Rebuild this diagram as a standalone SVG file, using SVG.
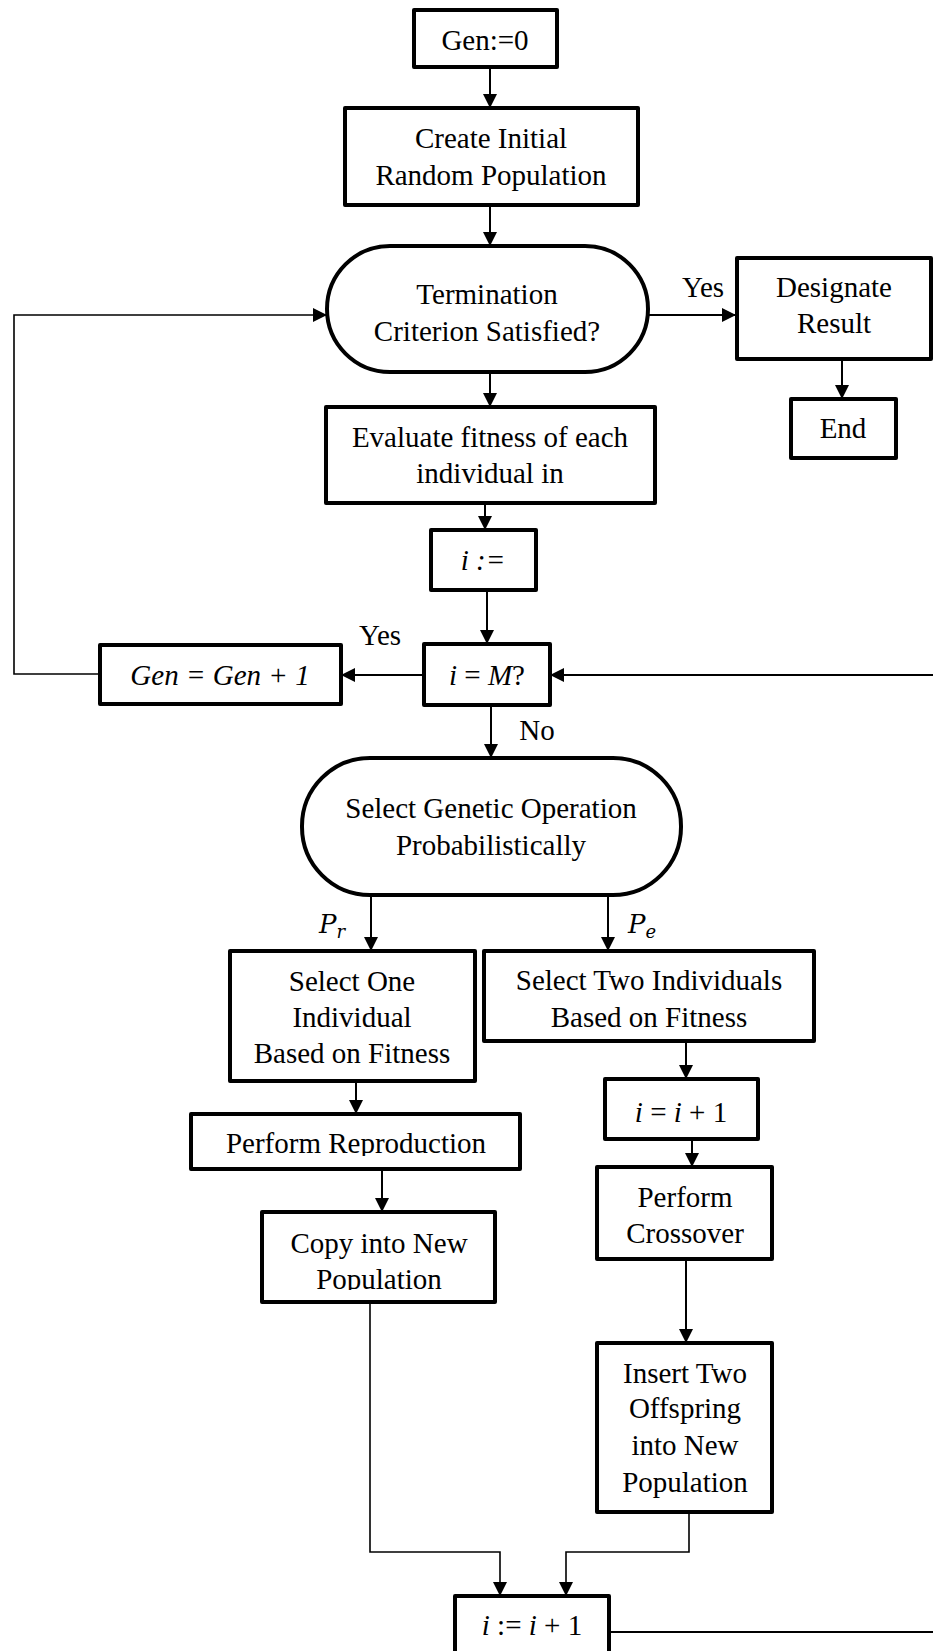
<svg xmlns="http://www.w3.org/2000/svg" width="933" height="1651" viewBox="0 0 933 1651">
<style>
.box{fill:#fff;stroke:#000;stroke-width:4;stroke-linejoin:round}
.c{fill:none;stroke:#000;stroke-width:2}
.t{fill:none;stroke:#000;stroke-width:1.6}
text{font-family:"Liberation Serif","Times New Roman",serif;font-size:29px;fill:#000;text-anchor:middle}
.i{font-style:italic}
.l{text-anchor:start}
</style>
<defs>
<marker id="ah" markerUnits="userSpaceOnUse" markerWidth="14" markerHeight="14" refX="14" refY="7" orient="auto">
<path d="M0,0 L14,7 L0,14 z" fill="#000"/>
</marker>
<clipPath id="clipRep"><rect x="190" y="1110" width="332" height="46"/></clipPath>
<clipPath id="clipCopy"><rect x="260" y="1210" width="238" height="80"/></clipPath>
<clipPath id="clipPe"><rect x="620" y="900" width="50" height="39"/></clipPath>
</defs>
<rect width="933" height="1651" fill="#fff"/>
<g id="connectors">
<path class="c" d="M490,67 V108" marker-end="url(#ah)"/>
<path class="c" d="M490,205 V246" marker-end="url(#ah)"/>
<path class="c" d="M648,315 H736" marker-end="url(#ah)"/>
<path class="c" d="M842,359 V399" marker-end="url(#ah)"/>
<path class="c" d="M490,372 V407" marker-end="url(#ah)"/>
<path class="c" d="M485,503 V530" marker-end="url(#ah)"/>
<path class="c" d="M487,590 V644" marker-end="url(#ah)"/>
<path class="c" d="M423,675 H341" marker-end="url(#ah)"/>
<path class="t" d="M100,674 H14 V315 H327" marker-end="url(#ah)"/>
<path class="c" d="M491,705 V758" marker-end="url(#ah)"/>
<path class="c" d="M371,895 V951" marker-end="url(#ah)"/>
<path class="c" d="M608,895 V951" marker-end="url(#ah)"/>
<path class="c" d="M686,1041 V1079" marker-end="url(#ah)"/>
<path class="c" d="M692,1139 V1167" marker-end="url(#ah)"/>
<path class="c" d="M686,1259 V1343" marker-end="url(#ah)"/>
<path class="c" d="M356,1081 V1114" marker-end="url(#ah)"/>
<path class="c" d="M382,1169 V1212" marker-end="url(#ah)"/>
<path class="t" d="M370,1302 V1552 H500 V1596" marker-end="url(#ah)"/>
<path class="t" d="M689,1512 V1552 H566 V1596" marker-end="url(#ah)"/>
<path class="c" d="M609,1632 H950 V675 H550" marker-end="url(#ah)"/>
<text x="703" y="297">Yes</text>
<text x="380" y="645">Yes</text>
<text x="537" y="740">No</text>
<text x="319" y="933" class="i l" style="font-family:'DejaVu Serif','Liberation Serif',serif;font-size:26px">P<tspan font-size="18" dy="5">r</tspan></text>
<g clip-path="url(#clipPe)"><text x="628" y="933" class="i l" style="font-family:'DejaVu Serif','Liberation Serif',serif;font-size:26px">P<tspan font-size="18" dy="5">e</tspan></text></g>
</g>
<g id="gen0"><rect class="box" x="414" y="10" width="143" height="57"/><text x="485" y="50">Gen:=0</text></g>
<g id="create"><rect class="box" x="345" y="108" width="293" height="97"/><text x="491" y="148">Create Initial</text><text x="491" y="185">Random Population</text></g>
<g id="termination"><rect class="box" x="327" y="246" width="321" height="126" rx="63" ry="63"/><text x="487" y="304">Termination</text><text x="487" y="341">Criterion Satisfied?</text></g>
<g id="designate"><rect class="box" x="737" y="258" width="194" height="101"/><text x="834" y="297">Designate</text><text x="834" y="333">Result</text></g>
<g id="end"><rect class="box" x="791" y="399" width="105" height="59"/><text x="843" y="438">End</text></g>
<g id="evaluate"><rect class="box" x="326" y="407" width="329" height="96"/><text x="490" y="447">Evaluate fitness of each</text><text x="490" y="483">individual in</text></g>
<g id="iassign"><rect class="box" x="431" y="530" width="105" height="60"/><text x="483" y="570" class="i">i :=</text></g>
<g id="iequalsM"><rect class="box" x="424" y="644" width="126" height="61"/><text x="487" y="685"><tspan class="i">i</tspan> = <tspan class="i">M</tspan>?</text></g>
<g id="genplus"><rect class="box" x="100" y="645" width="241" height="59"/><text x="220" y="685" class="i">Gen = Gen + 1</text></g>
<g id="selectop"><rect class="box" x="302" y="758" width="379" height="137" rx="68" ry="68"/><text x="491" y="818">Select Genetic Operation</text><text x="491" y="855">Probabilistically</text></g>
<g id="selectone"><rect class="box" x="230" y="951" width="245" height="130"/><text x="352" y="991">Select One</text><text x="352" y="1027">Individual</text><text x="352" y="1063">Based on Fitness</text></g>
<g id="selecttwo"><rect class="box" x="484" y="951" width="330" height="90"/><text x="649" y="990">Select Two Individuals</text><text x="649" y="1027">Based on Fitness</text></g>
<g id="iinc1"><rect class="box" x="605" y="1079" width="153" height="60"/><text x="681" y="1122"><tspan class="i">i</tspan> = <tspan class="i">i</tspan> + 1</text></g>
<g id="reproduction"><rect class="box" x="191" y="1114" width="329" height="55"/><g clip-path="url(#clipRep)"><text x="356" y="1153">Perform Reproduction</text></g></g>
<g id="crossover"><rect class="box" x="597" y="1167" width="175" height="92"/><text x="685" y="1207">Perform</text><text x="685" y="1243">Crossover</text></g>
<g id="copy"><rect class="box" x="262" y="1212" width="233" height="90"/><g clip-path="url(#clipCopy)"><text x="379" y="1253">Copy into New</text><text x="379" y="1289">Population</text></g></g>
<g id="insert"><rect class="box" x="597" y="1343" width="175" height="169"/><text x="685" y="1383">Insert Two</text><text x="685" y="1418">Offspring</text><text x="685" y="1455">into New</text><text x="685" y="1492">Population</text></g>
<g id="iinc2"><rect class="box" x="455" y="1596" width="154" height="70"/><text x="532" y="1635"><tspan class="i">i</tspan> := <tspan class="i">i</tspan> + 1</text></g>
</svg>
